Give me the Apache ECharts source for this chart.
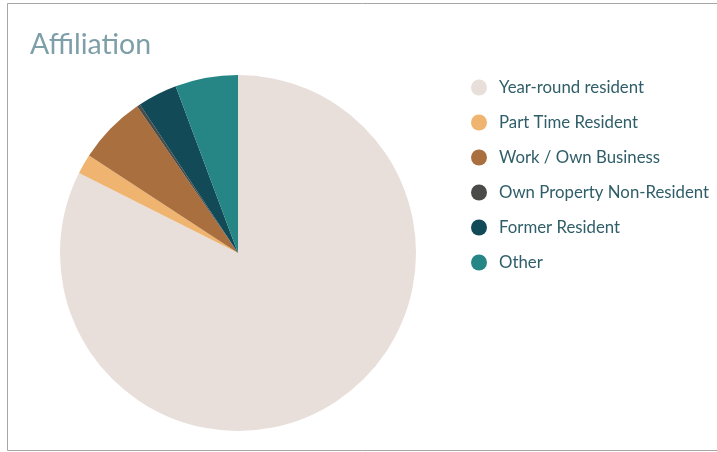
<!DOCTYPE html>
<html>
<head>
<meta charset="utf-8">
<script src="https://cdn.jsdelivr.net/npm/echarts@6/dist/echarts.min.js"></script>
<style>
  html, body { margin: 0; padding: 0; background: #ffffff; }
  #chart { width: 717px; height: 452px; }
</style>
</head>
<body>
<div id="chart"></div>
<script>
// Respondent affiliation shares (percent)
const categories = [
  'Year-round resident',
  'Part Time Resident',
  'Work / Own Business',
  'Own Property Non-Resident',
  'Former Resident',
  'Other'
];
const shares = [82.5, 1.8, 6.2, 0.3, 3.6, 5.7];
const sliceColors = ['#e8deda', '#efb46f', '#a96f3e', '#4b4b47', '#124a58', '#268585'];

const chart = echarts.init(document.getElementById('chart'), null, { renderer: 'canvas' });

chart.setOption({
  animation: false,
  backgroundColor: '#ffffff',
  color: sliceColors,
  title: {
    text: 'Affiliation',
    left: 25,
    top: 25,
    textStyle: {
      fontFamily: 'Lato',
      fontSize: 28.5,
      fontWeight: 'normal',
      color: '#7e9fa8'
    }
  },
  legend: {
    orient: 'vertical',
    left: 466,
    top: 74,
    icon: 'circle',
    itemWidth: 16,
    itemHeight: 16,
    itemGap: 18,
    selectedMode: false,
    textStyle: {
      fontFamily: 'Lato',
      fontSize: 16.8,
      lineHeight: 17,
      color: '#2f5e68',
      padding: [0, 0, 0, 7]
    },
    data: categories
  },
  graphic: [{
    type: 'rect',
    shape: { x: 7.5, y: 3.5, width: 730, height: 447 },
    style: { fill: 'none', stroke: '#a6a6a6', lineWidth: 1 },
    silent: true
  }],
  series: [{
    type: 'pie',
    center: [238, 253],
    radius: 178,
    startAngle: 90,
    clockwise: true,
    label: { show: false },
    labelLine: { show: false },
    itemStyle: { borderWidth: 0 },
    emphasis: { disabled: true },
    data: categories.map((name, i) => ({ name, value: shares[i] }))
  }]
});
</script>
</body>
</html>
